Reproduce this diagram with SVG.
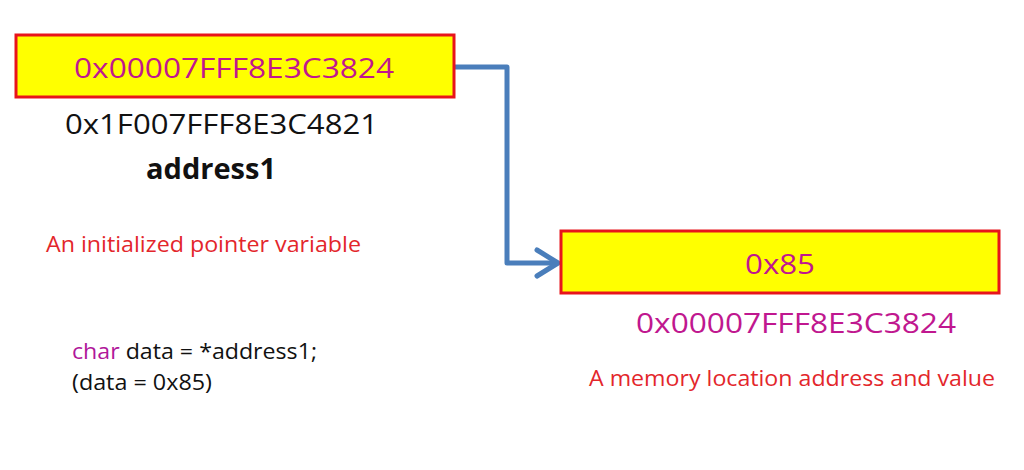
<svg xmlns="http://www.w3.org/2000/svg" width="1024" height="470" viewBox="0 0 1024 470">
<style>
text{font-family:"Open Sans","Noto Sans","Liberation Sans",sans-serif}
.box{fill:#FFFF00;stroke:#E8141B;stroke-width:3}
.mag{fill:#C0178F;font-size:28px}
.blk{fill:#111;font-size:28px}
.red{fill:#E3262B;font-size:21px}
.code{fill:#111;font-size:21px}
.conn{fill:none;stroke:#4A7EBB;stroke-width:5;stroke-linecap:round;stroke-linejoin:round}
</style>
<rect width="1024" height="470" fill="#fff"/>
<g id="connectors">
<path class="conn" d="M455,67 H507 V263 H557"/>
<polyline class="conn" points="537,250 558,263 537,276"/>
</g>
<g id="pointer">
<rect class="box" x="16" y="35" width="438" height="62"/>
<text class="mag" x="74" y="78" textLength="320" lengthAdjust="spacingAndGlyphs">0x00007FFF8E3C3824</text>
<text class="blk" x="65" y="134" textLength="313" lengthAdjust="spacingAndGlyphs">0x1F007FFF8E3C4821</text>
<text class="blk" x="146" y="179" font-weight="bold" textLength="130" lengthAdjust="spacingAndGlyphs">address1</text>
<text class="red" x="46" y="252" textLength="315" lengthAdjust="spacingAndGlyphs">An initialized pointer variable</text>
</g>
<g id="code">
<text class="code" x="72" y="359" textLength="245" lengthAdjust="spacingAndGlyphs"><tspan fill="#B0179A">char</tspan> data = *address1;</text>
<text class="code" x="72" y="390" textLength="140" lengthAdjust="spacingAndGlyphs">(data = 0x85)</text>
</g>
<g id="memory">
<rect class="box" x="561" y="231" width="438" height="62"/>
<text class="mag" x="745" y="274" textLength="70" lengthAdjust="spacingAndGlyphs">0x85</text>
<text class="mag" x="636" y="333" textLength="320" lengthAdjust="spacingAndGlyphs">0x00007FFF8E3C3824</text>
<text class="red" x="589" y="386" textLength="406" lengthAdjust="spacingAndGlyphs">A memory location address and value</text>
</g>
</svg>
